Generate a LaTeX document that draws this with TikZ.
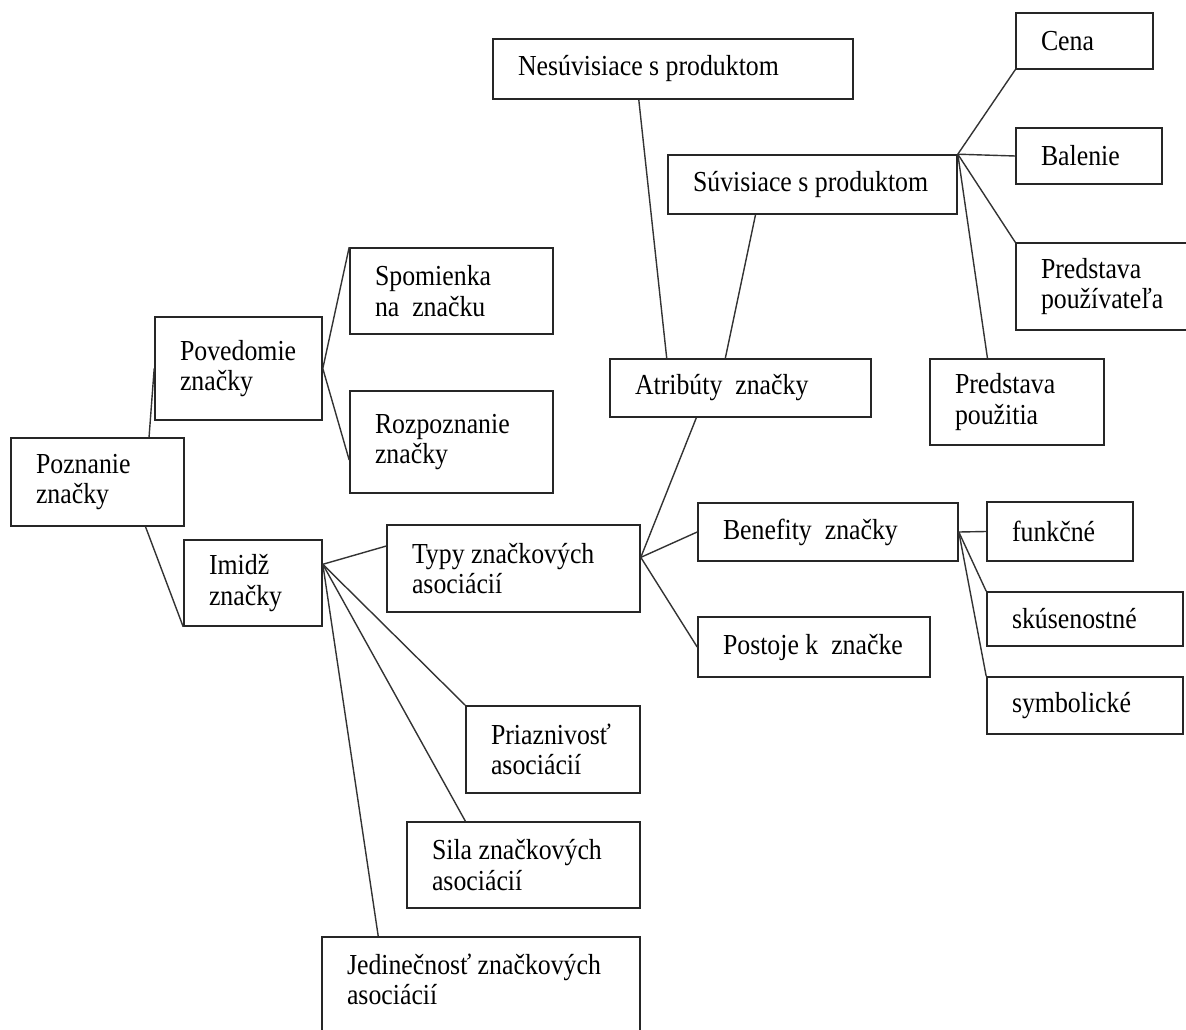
\documentclass[tikz,border=0pt]{standalone}
\usepackage{fontspec}
\setmainfont{Liberation Serif}[FakeStretch=0.89]

\begin{document}
\begin{tikzpicture}[x=1pt, y=-1pt,
  box node/.style={draw=black!85, line width=1.6pt, rectangle, align=flush left,
    inner xsep=25pt, font=\fontsize{29}{30.5}\selectfont},
  link/.style={color=black!80, line width=1.4pt}]
  \useasboundingbox (0,0) rectangle (1186,1030);
  \clip (0,0) rectangle (1186,1030);

  % left half
  \node[box node, text width=123pt, minimum height=88pt] (pozn) at (97.5,482) {Poznanie\\značky};
  \node[box node, text width=117pt, minimum height=103pt] (poved) at (238.5,368.5) {Povedomie\\značky};
  \node[box node, text width=153pt, minimum height=86pt] (spom) at (451.5,291) {Spomienka\\na~~značku};
  \node[box node, text width=153pt, minimum height=102pt] (rozp) at (451.5,442) {Rozpoznanie\\značky};
  \node[box node, text width=88pt, minimum height=86pt] (imidz) at (253,583) {Imidž\\značky};
  \node[box node, text width=203pt, minimum height=87pt] (typy) at (513.5,568.5) {Typy značkových\\asociácií};
  \node[box node, text width=124pt, minimum height=87pt] (priaz) at (553,749.5) {Priaznivosť\\asociácií};
  \node[box node, text width=183pt, minimum height=86pt] (sila) at (523.5,865) {Sila značkových\\asociácií};
  \node[box node, text width=268pt, inner ysep=17pt, anchor=north] (jedin) at (481,936) {Jedinečnosť značkových\\asociácií\\\strut};

  % right half
  \node[box node, text width=310pt, minimum height=60pt] (nesuv) at (673,69) {Nesúvisiace~s~produktom};
  \node[box node, text width=239pt, minimum height=59pt] (suv) at (812.5,184.5) {Súvisiace~s~produktom};
  \node[box node, text width=87pt, minimum height=56pt] (cena) at (1084.5,41) {Cena};
  \node[box node, text width=96pt, minimum height=56pt] (balen) at (1089,156) {Balenie};
  \node[box node, text width=134pt, minimum height=87pt] (pouzv) at (1108,286.5) {Predstava\\používateľa};
  \node[box node, text width=124pt, minimum height=86pt] (pouzt) at (1017,402) {Predstava\\použitia};
  \node[box node, text width=211pt, minimum height=58pt] (atrib) at (740.5,388) {Atribúty~~značky};
  \node[box node, text width=210pt, minimum height=58pt] (benef) at (828,532) {Benefity~~značky};
  \node[box node, text width=182pt, minimum height=60pt] (posto) at (814,647) {Postoje~k~~značke};
  \node[box node, text width=96pt, minimum height=59pt] (funkc) at (1060,531.5) {funkčné};
  \node[box node, text width=146pt, minimum height=54pt] (skus) at (1085,619) {skúsenostné};
  \node[box node, text width=146pt, minimum height=57pt] (symb) at (1085,705.5) {symbolické};

  \path[link]
  (pozn.41) edge (poved.west)
  (pozn.-43) edge (imidz.south west)
  (poved.east) edge (spom.north west)
  (poved.east) edge (rozp.190)
  (imidz.15) edge (typy.170)
  (imidz.15) edge (priaz.north west)
  (imidz.15) edge (sila.143)
  (imidz.15) edge ([xshift=57pt]jedin.north west)
  (typy.5) edge (atrib.214)
  (typy.5) edge (benef.west)
  (typy.5) edge (posto.west)
  (atrib.158) edge (nesuv.222)
  (atrib.117) edge (suv.208)
  (suv.north east) edge (cena.south west)
  (suv.north east) edge (balen.west)
  (suv.north east) edge (pouzv.north west)
  (suv.north east) edge (pouzt.124)
  (benef.east) edge (funkc.west)
  (benef.east) edge (skus.north west)
  (benef.east) edge (symb.north west);
\end{tikzpicture}
\end{document}
